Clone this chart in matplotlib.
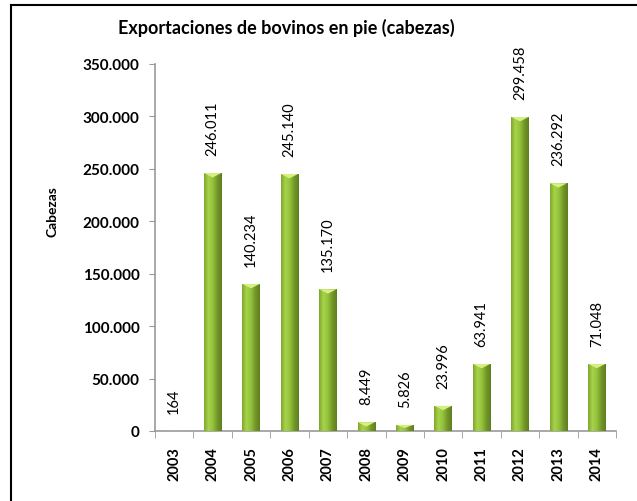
import matplotlib.pyplot as plt
import numpy as np
from matplotlib.colors import LinearSegmentedColormap
from matplotlib.patches import Polygon

plt.rcParams["font.family"] = ["Lato", "DejaVu Sans"]

# datos
anios = ["2003", "2004", "2005", "2006", "2007", "2008",
         "2009", "2010", "2011", "2012", "2013", "2014"]
cabezas = [164, 246011, 140234, 245140, 135170, 8449,
           5826, 23996, 63941, 299458, 236292, 64000]
etiquetas = ["164", "246.011", "140.234", "245.140", "135.170", "8.449",
             "5.826", "23.996", "63.941", "299.458", "236.292", "71.048"]
ticks_y = [0, 50000, 100000, 150000, 200000, 250000, 300000, 350000]

fig = plt.figure(figsize=(6.37, 5.02), dpi=100)
ax = fig.add_axes([155 / 637, 1 - 432 / 502, (616 - 155) / 637, (432 - 65) / 502])

x = np.arange(len(anios))
barras = ax.bar(x, cabezas, width=0.45, color="#8cba34", zorder=2)

# degradado horizontal tipo cilindro
cmap = LinearSegmentedColormap.from_list(
    "verde", ["#7fa82c", "#a8d34c", "#94c23a", "#72962a", "#5e7f1d"])
grad = np.linspace(0, 1, 64).reshape(1, -1)
for b in barras:
    x0, w, h = b.get_x(), b.get_width(), b.get_height()
    im = ax.imshow(grad, cmap=cmap, aspect="auto", extent=[x0, x0 + w, 0, h],
                   zorder=3)
    im.set_clip_path(b)
    cap = 4200 if h > 6000 else h * 0.5
    tri = Polygon([[x0, h], [x0 + w, h], [x0 + w / 2, h - cap]],
                  closed=True, color="#d6ef80", zorder=4, lw=0)
    ax.add_patch(tri)

for xi, v, t in zip(x, cabezas, etiquetas):
    ax.annotate(t, (xi, v), xytext=(0, 13), textcoords="offset points",
                rotation=90, ha="center", va="bottom", fontsize=10.5)

ax.set_xlim(-0.5, len(anios) - 0.5)
ax.set_ylim(0, 350000)
ax.set_yticks(ticks_y)
ax.set_yticklabels(["0" if v == 0 else f"{v:,}".replace(",", ".") for v in ticks_y],
                   fontsize=11, fontweight="bold")
ax.set_xticks(x)
ax.set_xticklabels(anios, rotation=90, fontsize=10.5, fontweight="bold")
ax.tick_params(axis="x", length=0, pad=11)
ax.set_xticks(np.arange(-0.5, len(anios)), minor=True)
ax.tick_params(axis="x", which="minor", length=5, color="#9a9a9a")
ax.tick_params(axis="y", length=4, color="#9a9a9a", pad=7)

for s in ["top", "right"]:
    ax.spines[s].set_visible(False)
for s in ["left", "bottom"]:
    ax.spines[s].set_color("#9a9a9a")
    ax.spines[s].set_linewidth(1.2)

ax.set_ylabel("Cabezas", fontsize=10, fontweight="bold")
ax.yaxis.set_label_coords(-0.21, 0.6)

fig.text(286 / 637, 1 - 28 / 502, "Exportaciones de bovinos en pie (cabezas)",
         ha="center", va="center", fontsize=13, fontweight="bold")

# marco del recuadro
fig.add_artist(plt.Line2D([11 / 637, 11 / 637], [0, 1 - 6 / 502], color="black", lw=1.5))
fig.add_artist(plt.Line2D([11 / 637, 1], [1 - 6 / 502, 1 - 6 / 502], color="black", lw=1.5))

fig.savefig("out.png", dpi=100)
